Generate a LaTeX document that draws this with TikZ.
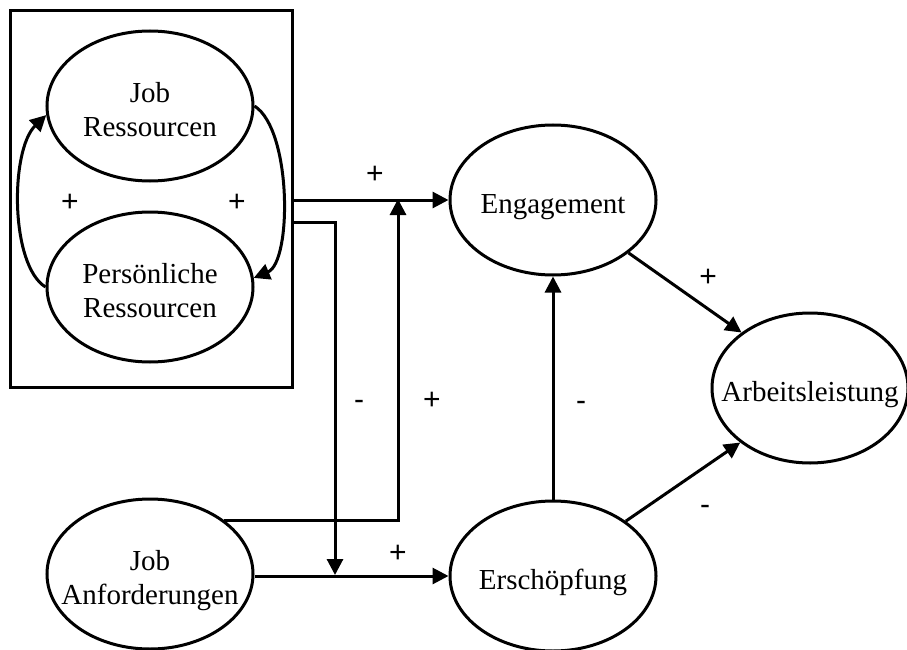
\documentclass[tikz,border=0pt]{standalone}
\usepackage{fontspec}
\setmainfont{Liberation Serif}
\newfontfamily\signfont{Liberation Sans}
\usetikzlibrary{shapes.geometric,arrows.meta}
% centred label that does not change its ellipse, set a little below the centre
\newcommand\ctext[1]{\raisebox{-13pt}[0pt][0pt]{\makebox[0pt]{\begin{tabular}{@{}c@{}}#1\end{tabular}}}}
\begin{document}
\begin{tikzpicture}[x=1pt,y=-1pt,
  line width=3pt,
  construct/.style={draw, ellipse, inner sep=0pt, minimum width=206pt, minimum height=150pt,
    font=\fontsize{29}{34}\selectfont},
  flow/.style={-{Triangle[length=16pt,width=16pt]}},
  sign/.style={inner sep=0pt, font=\signfont\fontsize{30}{30}\selectfont}]
\useasboundingbox (0,0) rectangle (907,650);

% resource block
\node[draw, minimum width=282pt, minimum height=377pt, inner sep=0pt] (box) at (151,199) {};
\node[construct] (jr) at (150,106) {\ctext{Job\\Ressourcen}};
\node[construct] (pr) at (150,287) {\ctext{Persönliche\\Ressourcen}};

% other constructs
\node[construct] (ja) at (150,574) {\ctext{Job\\Anforderungen}};
\node[construct] (eng) at (553,200) {\ctext{Engagement}};
\node[construct] (ers) at (553,576) {\ctext{Erschöpfung}};
\node[construct, minimum width=196pt] (arb) at (810,388) {\ctext{Arbeitsleistung}};

% mutual influence of the resources
\draw[flow] (pr.west) .. controls (10,265) and (10,150) .. (jr.185);
\draw[flow] (jr.east) .. controls (292,130) and (292,262) .. (pr.5);

% moderation points on the main paths
\coordinate (m1) at (335,575);
\coordinate (m2) at (398,199);

\draw[flow] (box.east |- eng.west) -- (eng.west);
\draw[flow] (box.east |- 0,222) -- (335,222) -- (m1);
\draw[flow] (ja.36) -- (ja.36 -| m2) -- (m2);
\draw[flow] (ja.east |- ers.west) -- (ers.west);
\draw[flow] (ers.north) -- (eng.south);
\draw[flow] (eng.-35) -- (arb.141);
\draw[flow] (ers.37) -- (arb.218);

% path signs
\node[sign] (s1) at (70,203) {+};
\node[sign] (s2) at (237,203) {+};
\node[sign] (s3) at (375,175) {+};
\node[sign] (s4) at (359,405) {-};
\node[sign] (s5) at (432,401) {+};
\node[sign] (s6) at (398,554) {+};
\node[sign] (s7) at (581,406) {-};
\node[sign] (s8) at (708,278) {+};
\node[sign] (s9) at (705,510) {-};
\end{tikzpicture}
\end{document}
